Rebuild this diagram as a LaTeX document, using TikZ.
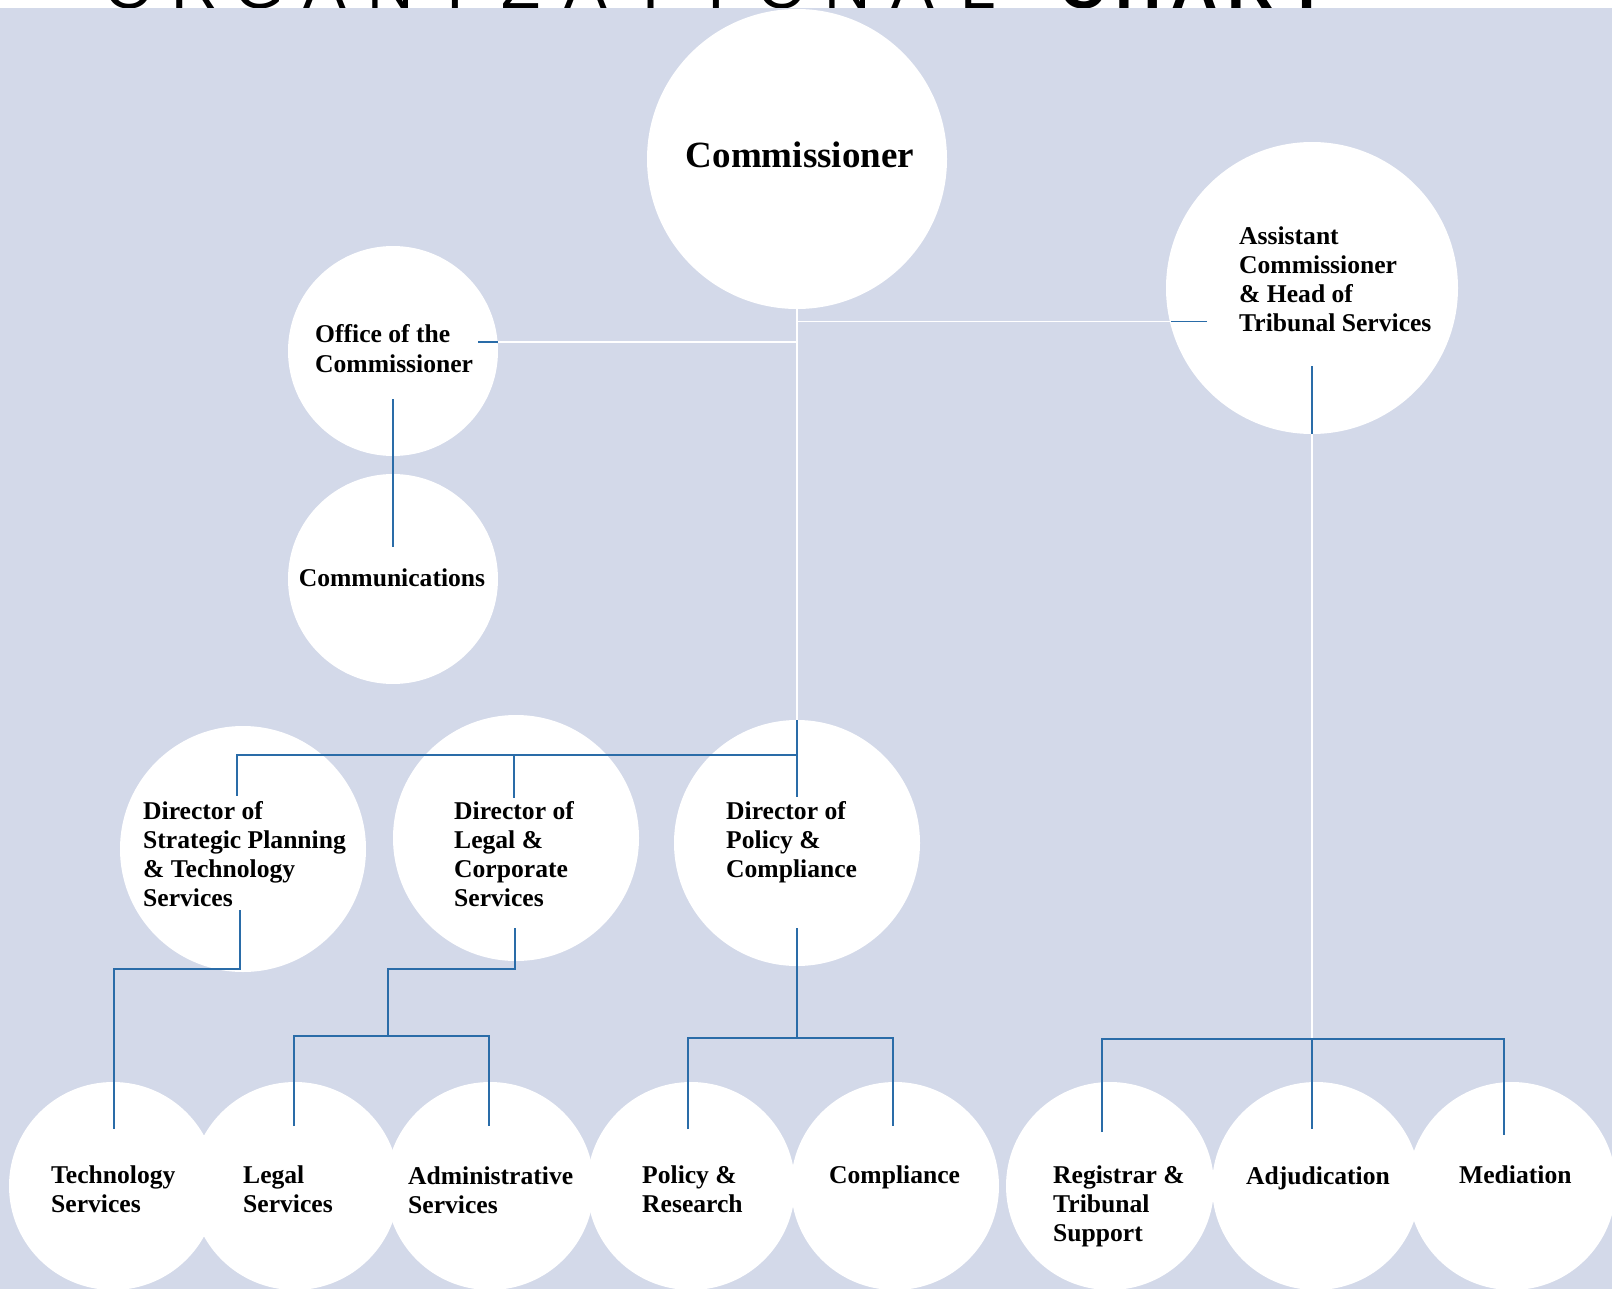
\documentclass[tikz,border=0pt]{standalone}
\usepackage{fontspec}
\setmainfont{Liberation Serif}
\newfontfamily\titlefont{Liberation Sans}
\usetikzlibrary{calc}
\definecolor{bgblue}{RGB}{211,217,233}
\definecolor{lineblue}{RGB}{42,108,168}
\newcommand\mlines[1]{\begin{tabular}[t]{@{}l@{}}#1\end{tabular}}
\begin{document}
\begin{tikzpicture}[x=1pt,y=-1pt,
  circ/.style={circle,fill=white,draw=none,inner sep=0pt,outer sep=0pt},
  lbl/.style={font=\bfseries\fontsize{25.6}{29}\selectfont,inner sep=0pt,anchor=base west,text=black},
  bl/.style={draw=lineblue,line width=1.4pt},
  wl/.style={draw=white,line width=1.4pt},
  ttl/.style={font=\titlefont\fontsize{64}{64}\selectfont,inner sep=0pt,anchor=base}]
\useasboundingbox (0,0) rectangle (1612,1289);
\clip (0,0) rectangle (1612,1289);
% background
\fill[white] (0,0) rectangle (1612,1289);
\fill[bgblue] (0,8) rectangle (1612,1289);
% title (only the bottom of the letters shows)
\begin{scope}
\clip (0,0) rectangle (1612,8);
\foreach \c [count=\i] in {O,R,G,A,N,I,Z,A,T,I,O,N,A,L}
  \node[ttl] (ta\i) at ({129+65.3*(\i-1)},8.5) {\c};
\foreach \c [count=\i] in {C,H,A,R,T}
  \node[ttl,font=\titlefont\bfseries\fontsize{64}{64}\selectfont] (tb\i) at ({1083+56*(\i-1)},8.5) {\c};
\end{scope}
% junction / stub coordinates
\coordinate (offj) at (797,342);
\coordinate (offedge) at (498,342);
\coordinate (offstub) at (478,342);
\coordinate (asj) at (797,321.5);
\coordinate (asedge) at (1171,321.5);
\coordinate (asstub) at (1207,321.5);
\coordinate (trj) at (1312,1039);
% white connectors (under circles)
\draw[wl] (797,309) -- (797,720);
\draw[wl] (offj) -- (offstub);
\draw[wl] (asj) -- (asstub);
\draw[wl] (1312,430) -- (trj);
% circles
\node[circ,minimum size=300] (comm) at (797,159) {};
\node[circ,minimum size=210] (office) at (393,351) {};
\node[circ,minimum size=210] (comms) at (393,579) {};
\node[circ,minimum size=292] (asst) at (1312,288) {};
\node[circ,minimum size=246] (strat) at (243,849) {};
\node[circ,minimum size=246] (legal) at (516,838) {};
\node[circ,minimum size=246] (pol) at (797,843) {};
\foreach \n/\x in {tech/113,legs/295,admin/490,polres/691,compl/895,reg/1110,adj/1316,med/1512}
  \node[circ,minimum size=208] (\n) at (\x,1186) {};
% blue connectors
\draw[bl] (offstub) -- (offedge);
\draw[bl] (asstub) -- (asedge);
\draw[bl] (office.center |- 0,399) -- (comms.center |- 0,547);
\draw[bl] (asst.center |- 0,366) -- (asst.south);
% directors
\coordinate (polstub) at (797,797);
\coordinate (stratstub) at (237,796);
\coordinate (legstub) at (514,798);
\draw[bl] (pol.north) -- (polstub);
\draw[bl] (797,755) -| (stratstub);
\draw[bl] (514,755) -- (legstub);
% strategic -> technology
\coordinate (techstub) at (114,1129);
\draw[bl] (240,910) -- (240,969) -- (114,969) -- (techstub);
% legal -> legal services / administrative
\coordinate (legsstub) at (294,1126);
\coordinate (adminstub) at (489,1126);
\draw[bl] (515,928) -- (515,969) -- (388,969) -- (388,1036);
\draw[bl] (legsstub) -- (294,1036) -- (489,1036) -- (adminstub);
% policy -> policy & research / compliance
\coordinate (polresstub) at (688,1129);
\coordinate (complstub) at (893,1126);
\draw[bl] (797,928) -- (797,1038);
\draw[bl] (polresstub) -- (688,1038) -- (893,1038) -- (complstub);
% tribunal
\coordinate (regstub) at (1102,1132);
\coordinate (adjstub) at (1312,1129);
\coordinate (medstub) at (1504,1135);
\draw[bl] (regstub) -- (1102,1039) -- (1504,1039) -- (medstub);
\draw[bl] (trj) -- (adjstub);
% texts
\node[lbl,anchor=base,font=\bfseries\fontsize{37}{40}\selectfont] (tcomm) at (800,168) {Commissioner};
\node[lbl] (toffice) at (315,343) {\mlines{Office of the\\Commissioner}};
\node[lbl,anchor=base] (tcomms) at (392,586) {Communications};
\node[lbl] (tasst) at (1239,245) {\mlines{Assistant\\Commissioner\\\& Head of\\Tribunal Services}};
\node[lbl] (tstrat) at (143,819) {\mlines{Director of\\Strategic Planning\\\& Technology\\Services}};
\node[lbl] (tlegal) at (454,819) {\mlines{Director of\\Legal \&\\Corporate\\Services}};
\node[lbl] (tpol) at (726,819) {\mlines{Director of\\Policy \&\\Compliance}};
\node[lbl] (ttech) at (51,1183) {\mlines{Technology\\Services}};
\node[lbl] (tlegs) at (243,1183) {\mlines{Legal\\Services}};
\node[lbl] (tadmin) at (408,1184) {\mlines{Administrative\\Services}};
\node[lbl] (tpolres) at (642,1183) {\mlines{Policy \&\\Research}};
\node[lbl] (tcompl) at (829,1183) {Compliance};
\node[lbl] (treg) at (1053,1183) {\mlines{Registrar \&\\Tribunal\\Support}};
\node[lbl] (tadj) at (1246,1184) {Adjudication};
\node[lbl] (tmed) at (1459,1183) {Mediation};
\end{tikzpicture}
\end{document}
